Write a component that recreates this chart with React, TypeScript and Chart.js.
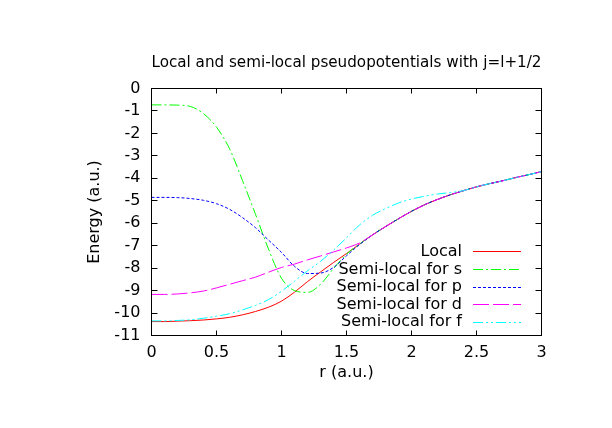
import React, { useEffect, useRef } from "react";
import { Chart, registerables } from "chart.js";

Chart.register(...registerables);

// r (a.u.)
const radius = [
  0, 0.1, 0.2, 0.3, 0.4, 0.5, 0.6, 0.7, 0.8, 0.9, 1.0, 1.1, 1.2, 1.3, 1.4, 1.5,
  1.6, 1.7, 1.8, 1.9, 2.0, 2.1, 2.2, 2.3, 2.4, 2.5, 2.6, 2.7, 2.8, 2.9, 3.0,
];

const localPot = [
  -10.38, -10.38, -10.36, -10.34, -10.31, -10.26, -10.19, -10.08, -9.93, -9.74, -9.47,
  -9.07, -8.6, -8.17, -7.75, -7.35, -6.93, -6.52, -6.15, -5.8, -5.47, -5.18, -4.94,
  -4.73, -4.55, -4.38, -4.24, -4.11, -3.97, -3.84, -3.7,
];

const semiS = [
  -0.73, -0.73, -0.74, -0.8, -1.12, -1.72, -2.68, -4.1, -5.6, -7.15, -8.45, -9.0,
  -9.08, -8.72, -8.02, -7.38, -6.93, -6.52, -6.15, -5.8, -5.47, -5.18, -4.94, -4.73,
  -4.55, -4.38, -4.24, -4.11, -3.97, -3.84, -3.7,
];

const semiP = [
  -4.85, -4.85, -4.86, -4.9, -4.98, -5.13, -5.38, -5.75, -6.2, -6.75, -7.3, -7.92,
  -8.24, -8.22, -7.97, -7.45, -6.95, -6.52, -6.15, -5.8, -5.47, -5.18, -4.94, -4.73,
  -4.55, -4.38, -4.24, -4.11, -3.97, -3.84, -3.7,
];

const semiD = [
  -9.17, -9.17, -9.15, -9.1, -9.02, -8.88, -8.72, -8.56, -8.4, -8.18, -7.97, -7.82,
  -7.63, -7.46, -7.28, -7.1, -6.88, -6.52, -6.15, -5.8, -5.47, -5.18, -4.94, -4.73,
  -4.55, -4.38, -4.24, -4.11, -3.97, -3.84, -3.7,
];

const semiF = [
  -10.35, -10.35, -10.33, -10.3, -10.23, -10.14, -10.03, -9.86, -9.66, -9.4, -9.03,
  -8.58, -8.12, -7.7, -7.2, -6.65, -6.08, -5.65, -5.35, -5.1, -4.92, -4.8, -4.7,
  -4.63, -4.55, -4.38, -4.24, -4.11, -3.97, -3.84, -3.7,
];

const seriesLabels = [
  "Local",
  "Semi-local for s",
  "Semi-local for p",
  "Semi-local for d",
  "Semi-local for f",
];
const seriesValues = [localPot, semiS, semiP, semiD, semiF];
const seriesColors = ["#ff0000", "#00ff00", "#0000ff", "#ff00ff", "#00ffff"];
const seriesDashes: number[][] = [[], [10, 3, 2, 3], [3, 2], [16, 4], [10, 3, 2, 3, 2, 3]];

const xTickValues = [0, 0.5, 1, 1.5, 2, 2.5, 3];
const yTickValues = [-11, -10, -9, -8, -7, -6, -5, -4, -3, -2, -1, 0];

const titleText = "Local and semi-local pseudopotentials with j=l+1/2";
const xTitle = "r (a.u.)";
const yTitle = "Energy (a.u.)";

const FONT_FAMILY = "'DejaVu Sans', Verdana, sans-serif";

const framePlugin = {
  id: "gnuplotFrame",
  afterDatasetsDraw(chart: any) {
    const { ctx, chartArea, scales } = chart;
    const { left, right, top, bottom } = chartArea;
    ctx.save();
    ctx.strokeStyle = "#000";
    ctx.lineWidth = 1;
    ctx.setLineDash([]);
    ctx.strokeRect(left, top, right - left, bottom - top);
    ctx.beginPath();
    xTickValues.forEach((v) => {
      const px = Math.round(scales.x.getPixelForValue(v) - 0.5) + 0.5;
      ctx.moveTo(px, bottom);
      ctx.lineTo(px, bottom - 5);
      ctx.moveTo(px, top);
      ctx.lineTo(px, top + 5);
    });
    yTickValues.forEach((v) => {
      const py = Math.round(scales.y.getPixelForValue(v) - 0.5) + 0.5;
      ctx.moveTo(left, py);
      ctx.lineTo(left + 6, py);
      ctx.moveTo(right, py);
      ctx.lineTo(right - 6, py);
    });
    ctx.stroke();

    // key (legend) inside the plot, text right-aligned with sample to its right
    const textRight = right - 79.5;
    const lineStart = right - 68.5;
    const lineEnd = right - 20.5;
    const firstRow = bottom - 84.3;
    const rowGap = 17.65;
    ctx.font = `16px ${FONT_FAMILY}`;
    ctx.textAlign = "right";
    ctx.textBaseline = "middle";
    seriesLabels.forEach((label, i) => {
      const rowY = firstRow + i * rowGap;
      ctx.fillStyle = "#000";
      ctx.fillText(label, textRight, rowY + 0.5);
      const ly = Math.round(rowY) + 0.5;
      ctx.strokeStyle = seriesColors[i];
      ctx.lineWidth = 1;
      ctx.setLineDash(seriesDashes[i]);
      ctx.beginPath();
      ctx.moveTo(lineStart, ly);
      ctx.lineTo(lineEnd, ly);
      ctx.stroke();
    });
    ctx.restore();
  },
};

export default function App() {
  const canvasRef = useRef<HTMLCanvasElement | null>(null);

  useEffect(() => {
    if (!canvasRef.current) return;
    const datasets = seriesLabels.map((label, i) => ({
      label,
      data: radius.map((r, k) => ({ x: r, y: seriesValues[i][k] })),
      borderColor: seriesColors[i],
      backgroundColor: seriesColors[i],
      borderWidth: 1,
      borderDash: seriesDashes[i],
      pointRadius: 0,
      fill: false,
      cubicInterpolationMode: "monotone" as const,
      order: seriesLabels.length - i,
    }));

    const chart = new Chart(canvasRef.current, {
      type: "line",
      data: { datasets },
      plugins: [framePlugin],
      options: {
        animation: false,
        responsive: false,
        devicePixelRatio: 1,
        layout: { padding: { left: 0, right: 70.5, top: 0, bottom: 0 } },
        plugins: {
          legend: { display: false },
          tooltip: { enabled: false },
          title: {
            display: true,
            text: titleText,
            color: "#000",
            fullSize: false,
            font: { family: FONT_FAMILY, size: 16, weight: "normal" },
            padding: { top: 53, bottom: 16.3 },
          },
        },
        scales: {
          x: {
            type: "linear",
            min: 0,
            max: 3,
            afterBuildTicks: (scale: any) => {
              scale.ticks = xTickValues.map((v) => ({ value: v }));
            },
            afterFit: (scale: any) => {
              scale.height = 92.5;
            },
            grid: { display: false, drawTicks: false },
            border: { display: false },
            ticks: {
              color: "#000",
              padding: 8,
              maxRotation: 0,
              autoSkip: false,
              font: { family: FONT_FAMILY, size: 16 },
              callback: (v: any) => String(v),
            },
            title: {
              display: true,
              text: xTitle,
              color: "#000",
              font: { family: FONT_FAMILY, size: 16 },
              padding: { top: 0, bottom: 46 },
            },
          },
          y: {
            type: "linear",
            min: -11,
            max: 0,
            afterBuildTicks: (scale: any) => {
              scale.ticks = yTickValues.map((v) => ({ value: v }));
            },
            afterFit: (scale: any) => {
              scale.width = 151.5;
            },
            grid: { display: false, drawTicks: false },
            border: { display: false },
            ticks: {
              color: "#000",
              padding: 11,
              autoSkip: false,
              font: { family: FONT_FAMILY, size: 16 },
              callback: (v: any) => String(v),
            },
            title: {
              display: true,
              text: yTitle,
              color: "#000",
              font: { family: FONT_FAMILY, size: 16 },
              padding: { top: 85, bottom: 0 },
            },
          },
        },
      },
    });
    return () => chart.destroy();
  }, []);

  return (
    <div style={{ position: "fixed", left: 0, top: 0, width: 612, height: 428, background: "#fff" }}>
      <canvas ref={canvasRef} width={612} height={428} />
    </div>
  );
}
